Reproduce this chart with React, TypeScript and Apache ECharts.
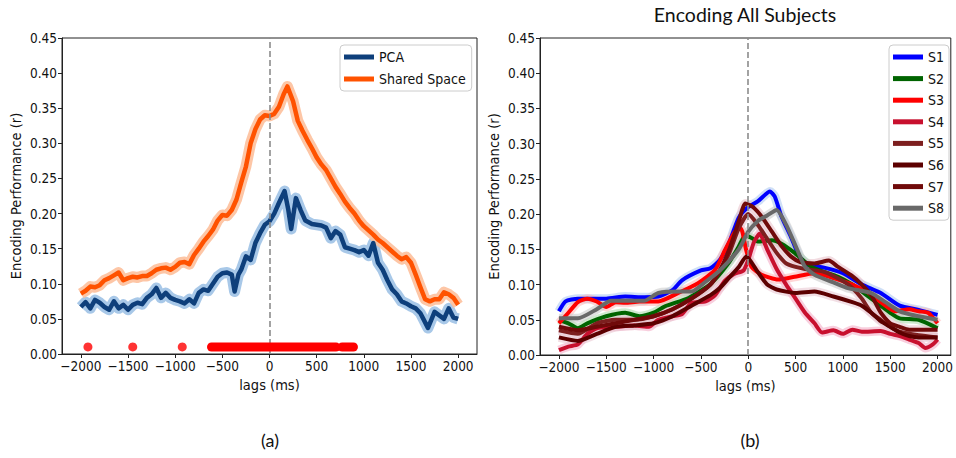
import React, { useEffect, useRef } from "react";
import * as echarts from "echarts";

type Pt = [number, number];

const xTicks = [-2000, -1500, -1000, -500, 0, 500, 1000, 1500, 2000];

const pcaSeries: Pt[] = [
  [-2000, 0.067], [-1950, 0.074], [-1900, 0.065], [-1850, 0.077], [-1800, 0.073], [-1750, 0.067],
  [-1700, 0.063], [-1650, 0.075], [-1600, 0.065], [-1550, 0.07], [-1500, 0.063], [-1450, 0.07],
  [-1400, 0.073], [-1350, 0.071], [-1300, 0.08], [-1250, 0.085], [-1200, 0.094], [-1150, 0.08],
  [-1100, 0.087], [-1050, 0.08], [-1000, 0.077], [-950, 0.075], [-900, 0.072], [-850, 0.078],
  [-800, 0.072], [-750, 0.087], [-700, 0.092], [-650, 0.09], [-600, 0.1], [-550, 0.11],
  [-500, 0.115], [-450, 0.116], [-400, 0.113], [-370, 0.089], [-330, 0.113], [-300, 0.12],
  [-250, 0.139], [-200, 0.134], [-150, 0.158], [-100, 0.172], [-50, 0.184], [0, 0.189],
  [50, 0.2], [100, 0.215], [160, 0.232], [200, 0.205], [230, 0.178], [280, 0.222],
  [330, 0.205], [380, 0.19], [450, 0.185], [500, 0.184], [550, 0.183], [600, 0.18],
  [650, 0.165], [700, 0.175], [750, 0.17], [800, 0.152], [850, 0.15], [900, 0.148],
  [950, 0.145], [1000, 0.148], [1050, 0.14], [1100, 0.158], [1150, 0.13], [1200, 0.12],
  [1250, 0.105], [1300, 0.092], [1350, 0.085], [1400, 0.075], [1450, 0.072], [1500, 0.068],
  [1550, 0.065], [1600, 0.058], [1650, 0.045], [1680, 0.037], [1750, 0.06], [1800, 0.055],
  [1850, 0.05], [1900, 0.065], [1950, 0.052], [2000, 0.05],
];

const sharedSeries: Pt[] = [
  [-2000, 0.086], [-1950, 0.09], [-1900, 0.096], [-1850, 0.095], [-1800, 0.098], [-1750, 0.105],
  [-1700, 0.108], [-1650, 0.112], [-1600, 0.116], [-1550, 0.105], [-1500, 0.108], [-1450, 0.11],
  [-1400, 0.109], [-1350, 0.111], [-1300, 0.111], [-1250, 0.115], [-1200, 0.12], [-1150, 0.122],
  [-1100, 0.123], [-1050, 0.12], [-1000, 0.124], [-950, 0.13], [-900, 0.131], [-850, 0.128],
  [-800, 0.141], [-750, 0.15], [-700, 0.16], [-650, 0.168], [-600, 0.177], [-550, 0.19],
  [-500, 0.198], [-450, 0.197], [-400, 0.205], [-350, 0.22], [-300, 0.244], [-250, 0.267],
  [-200, 0.3], [-150, 0.32], [-100, 0.334], [-50, 0.34], [0, 0.339], [50, 0.342],
  [100, 0.352], [150, 0.37], [190, 0.381], [250, 0.36], [300, 0.332], [350, 0.318],
  [400, 0.305], [450, 0.293], [500, 0.28], [550, 0.27], [600, 0.262], [650, 0.25],
  [700, 0.238], [750, 0.228], [800, 0.217], [850, 0.208], [900, 0.2], [950, 0.19],
  [1000, 0.182], [1050, 0.176], [1100, 0.17], [1150, 0.163], [1200, 0.158], [1250, 0.152],
  [1300, 0.146], [1350, 0.14], [1400, 0.135], [1450, 0.138], [1500, 0.13], [1550, 0.113],
  [1600, 0.095], [1650, 0.078], [1700, 0.075], [1750, 0.078], [1800, 0.078], [1850, 0.088],
  [1900, 0.085], [1950, 0.08], [2000, 0.07],
];

const sigLevel = 0.01;
const sigSingles = [-1925, -1450, -925];
const sigRanges: Pt[] = [[-615, 705], [770, 890]];

const s1: Pt[] = [
  [-2000, 0.062], [-1930, 0.076], [-1800, 0.08], [-1500, 0.08], [-1300, 0.083], [-1100, 0.082],
  [-950, 0.083], [-800, 0.092], [-700, 0.106], [-500, 0.12], [-400, 0.123], [-300, 0.135],
  [-200, 0.16], [-100, 0.195], [0, 0.21], [100, 0.218], [230, 0.232], [280, 0.225],
  [350, 0.197], [450, 0.168], [540, 0.14], [630, 0.128], [800, 0.124], [1000, 0.116],
  [1200, 0.1], [1400, 0.088], [1600, 0.07], [1800, 0.064], [2000, 0.057],
];
const s2: Pt[] = [
  [-2000, 0.05], [-1900, 0.045], [-1800, 0.038], [-1700, 0.045], [-1500, 0.055], [-1300, 0.06],
  [-1150, 0.055], [-1000, 0.06], [-880, 0.069], [-630, 0.081], [-390, 0.102], [-210, 0.13],
  [-100, 0.154], [-30, 0.17], [50, 0.165], [100, 0.161], [250, 0.163], [350, 0.158],
  [490, 0.145], [670, 0.125], [950, 0.111], [1100, 0.1], [1250, 0.085], [1400, 0.07],
  [1500, 0.06], [1600, 0.052], [1800, 0.05], [2000, 0.038],
];
const s3: Pt[] = [
  [-2000, 0.045], [-1900, 0.06], [-1800, 0.075], [-1700, 0.08], [-1600, 0.076], [-1500, 0.068],
  [-1400, 0.075], [-1300, 0.074], [-1150, 0.076], [-950, 0.076], [-740, 0.088], [-530, 0.102],
  [-350, 0.121], [-245, 0.149], [-140, 0.175], [-80, 0.18], [-20, 0.148], [35, 0.125],
  [140, 0.114], [315, 0.107], [490, 0.111], [700, 0.116], [950, 0.107], [1100, 0.1],
  [1250, 0.09], [1400, 0.075], [1550, 0.062], [1700, 0.065], [1800, 0.062], [1900, 0.06],
  [2000, 0.045],
];
const s4: Pt[] = [
  [-2000, 0.007], [-1900, 0.012], [-1800, 0.015], [-1700, 0.03], [-1600, 0.038], [-1400, 0.04],
  [-1200, 0.042], [-1050, 0.04], [-950, 0.05], [-800, 0.055], [-700, 0.058], [-600, 0.074],
  [-450, 0.076], [-350, 0.085], [-250, 0.105], [-150, 0.115], [-50, 0.12], [0, 0.135],
  [60, 0.16], [120, 0.172], [200, 0.15], [300, 0.122], [400, 0.1], [500, 0.08],
  [600, 0.06], [700, 0.045], [780, 0.032], [900, 0.035], [1000, 0.03], [1100, 0.036],
  [1200, 0.033], [1400, 0.034], [1500, 0.03], [1600, 0.027], [1700, 0.022], [1800, 0.017],
  [1870, 0.01], [1950, 0.015], [2000, 0.022],
];
const s5: Pt[] = [
  [-2000, 0.035], [-1800, 0.03], [-1600, 0.045], [-1400, 0.05], [-1200, 0.05], [-1000, 0.055],
  [-800, 0.065], [-600, 0.08], [-400, 0.1], [-300, 0.12], [-200, 0.145], [-100, 0.18],
  [0, 0.2], [100, 0.185], [200, 0.165], [300, 0.145], [400, 0.13], [500, 0.125],
  [600, 0.122], [800, 0.118], [1000, 0.105], [1100, 0.095], [1200, 0.08], [1300, 0.06],
  [1400, 0.05], [1500, 0.04], [1600, 0.033], [1800, 0.028], [2000, 0.025],
];
const s6: Pt[] = [
  [-2000, 0.025], [-1800, 0.02], [-1600, 0.03], [-1400, 0.04], [-1200, 0.042], [-1000, 0.045],
  [-800, 0.055], [-600, 0.07], [-400, 0.085], [-300, 0.095], [-200, 0.11], [-100, 0.125],
  [-20, 0.14], [100, 0.118], [200, 0.1], [300, 0.093], [500, 0.088], [700, 0.09],
  [900, 0.083], [1100, 0.075], [1200, 0.07], [1300, 0.06], [1400, 0.048], [1500, 0.04],
  [1600, 0.032], [1700, 0.027], [1800, 0.025], [2000, 0.025],
];
const s7: Pt[] = [
  [-2000, 0.04], [-1800, 0.035], [-1600, 0.04], [-1400, 0.045], [-1200, 0.05], [-1000, 0.055],
  [-800, 0.065], [-600, 0.08], [-400, 0.1], [-300, 0.12], [-200, 0.15], [-100, 0.19],
  [-30, 0.215], [50, 0.21], [150, 0.195], [250, 0.175], [350, 0.155], [450, 0.14],
  [550, 0.132], [700, 0.13], [850, 0.134], [950, 0.125], [1100, 0.112], [1200, 0.1],
  [1300, 0.085], [1400, 0.06], [1500, 0.045], [1600, 0.04], [1700, 0.036], [2000, 0.036],
];
const s8: Pt[] = [
  [-2000, 0.052], [-1800, 0.052], [-1600, 0.065], [-1450, 0.077], [-1300, 0.077], [-1100, 0.077],
  [-950, 0.088], [-700, 0.09], [-600, 0.09], [-450, 0.104], [-300, 0.12], [-100, 0.15],
  [0, 0.175], [100, 0.19], [200, 0.198], [300, 0.206], [400, 0.185], [500, 0.155],
  [600, 0.125], [700, 0.114], [900, 0.103], [1050, 0.095], [1300, 0.088], [1450, 0.075],
  [1600, 0.062], [1800, 0.055], [2000, 0.05],
];

const subjectNames = ["S1", "S2", "S3", "S4", "S5", "S6", "S7", "S8"];
const subjectData = [s1, s2, s3, s4, s5, s6, s7, s8];
const subjectColors = ["#0000ff", "#006400", "#ff0000", "#c8102e", "#7d1f1f", "#5c0000", "#700a0a", "#696969"];
const subjectBands = ["#a8c4f0", "#a8d8a8", "#ffb4b4", "#f2a8c2", "#e8c4d4", "#e8c4d0", "#e8c0c8", "#c8c8c8"];

const FONT = "'DejaVu Sans Condensed', 'DejaVu Sans', sans-serif";
const TITLE_FONT = "Lato, 'Open Sans', sans-serif";
const TXT = "#111";

const fmtX = (v: number) => (v < 0 ? "\u2212" + Math.abs(v) : String(v));

function xAxisFor(gridIndex: number, min: number, max: number) {
  return {
    gridIndex,
    type: "value",
    min,
    max,
    name: "lags (ms)",
    nameLocation: "middle",
    nameGap: 23,
    nameTextStyle: { fontSize: 14.5, color: TXT, fontFamily: FONT },
    axisLine: { show: true, onZero: false, lineStyle: { color: "#222", width: 1 } },
    axisTick: { show: true, customValues: xTicks, length: 4, lineStyle: { color: "#222" } },
    axisLabel: { customValues: xTicks, formatter: fmtX, color: TXT, fontSize: 13.5, fontFamily: FONT, margin: 5 },
    splitLine: { show: false },
  };
}

function yAxisFor(gridIndex: number) {
  return {
    gridIndex,
    type: "value",
    min: 0,
    max: 0.45,
    interval: 0.05,
    name: "Encoding Performance (r)",
    nameLocation: "middle",
    nameRotate: 90,
    nameGap: 39,
    nameTextStyle: { fontSize: 14.5, color: TXT, fontFamily: FONT },
    axisLine: { show: true, onZero: false, lineStyle: { color: "#222", width: 1 } },
    axisTick: { show: true, length: 4, lineStyle: { color: "#222" } },
    axisLabel: { formatter: (v: number) => v.toFixed(2), color: TXT, fontSize: 13.5, fontFamily: FONT, margin: 5 },
    splitLine: { show: false },
  };
}

const zeroMark = {
  silent: true,
  symbol: ["none", "none"],
  label: { show: false },
  lineStyle: { type: [6, 3], color: "#8c8c8c", width: 1.6 },
  data: [{ xAxis: 0 }],
};

export default function App() {
  const ref = useRef<HTMLDivElement>(null);
  useEffect(() => {
    if (!ref.current) return;
    const chart = echarts.init(ref.current, undefined, { renderer: "svg" });
    const series: any[] = [];

    series.push({
      name: "PCA band", type: "line", xAxisIndex: 0, yAxisIndex: 0, data: pcaSeries,
      showSymbol: false, silent: true, color: "#9fc2e6",
      lineStyle: { width: 11, color: "#9fc2e6", opacity: 0.9, join: "round" }, z: 2,
      markLine: zeroMark,
    });
    series.push({
      name: "Shared band", type: "line", xAxisIndex: 0, yAxisIndex: 0, data: sharedSeries,
      showSymbol: false, silent: true, color: "#fdc09c",
      lineStyle: { width: 11, color: "#fdc09c", opacity: 0.9, join: "round" }, z: 2,
    });
    series.push({
      name: "PCA", type: "line", xAxisIndex: 0, yAxisIndex: 0, data: pcaSeries,
      showSymbol: false, color: "#0e3f7b",
      lineStyle: { width: 4.5, color: "#0e3f7b", join: "round" }, z: 3,
    });
    series.push({
      name: "Shared Space", type: "line", xAxisIndex: 0, yAxisIndex: 0, data: sharedSeries,
      showSymbol: false, color: "#ff5200",
      lineStyle: { width: 4.5, color: "#ff5200", join: "round" }, z: 3,
    });
    series.push({
      name: "sig", type: "scatter", xAxisIndex: 0, yAxisIndex: 0,
      data: sigSingles.map((x) => [x, sigLevel]),
      symbol: "circle", symbolSize: 9, itemStyle: { color: "#ff0000" }, z: 5, silent: true,
    });
    sigRanges.forEach((r, i) => {
      series.push({
        name: "sigRange" + i, type: "line", xAxisIndex: 0, yAxisIndex: 0,
        data: [[r[0], sigLevel], [r[1], sigLevel]],
        showSymbol: false, silent: true, color: "#ff0000",
        lineStyle: { width: 9, color: "#ff0000", cap: "round" }, z: 5,
      });
    });

    subjectNames.forEach((n, i) => {
      series.push({
        name: n + " band", type: "line", xAxisIndex: 1, yAxisIndex: 1, data: subjectData[i],
        showSymbol: false, silent: true, smooth: 0.2, color: subjectBands[i],
        lineStyle: { width: 9, color: subjectBands[i], opacity: 0.55 }, z: 2,
        ...(i === 0 ? { markLine: zeroMark } : {}),
      });
    });
    subjectNames.forEach((n, i) => {
      series.push({
        name: n, type: "line", xAxisIndex: 1, yAxisIndex: 1, data: subjectData[i],
        showSymbol: false, smooth: 0.2, color: subjectColors[i],
        lineStyle: { width: 4, color: subjectColors[i], join: "round" }, z: 3 + i * 0.01,
      });
    });

    const legendCommon = {
      orient: "vertical",
      icon: "rect",
      itemWidth: 30,
      itemHeight: 5,
      backgroundColor: "#fff",
      borderColor: "#cccccc",
      borderWidth: 1,
      borderRadius: 4,
      selectedMode: false,
      textStyle: { fontSize: 14, color: TXT, fontFamily: FONT, lineHeight: 14 },
    };

    chart.setOption({
      animation: false,
      backgroundColor: "#ffffff",
      grid: [
        { left: 62, top: 38, width: 415, height: 316, show: true, borderColor: "#222", borderWidth: 1, backgroundColor: "transparent" },
        { left: 540, top: 38, width: 412, height: 317, show: true, borderColor: "#222", borderWidth: 1, backgroundColor: "transparent" },
      ],
      xAxis: [xAxisFor(0, -2200, 2200), xAxisFor(1, -2200, 2140)],
      yAxis: [yAxisFor(0), yAxisFor(1)],
      legend: [
        { ...legendCommon, left: 340, top: 45, data: ["PCA", "Shared Space"], itemGap: 8, padding: [5, 6, 5, 4] },
        { ...legendCommon, left: 889, top: 45, data: subjectNames, itemGap: 7.6, padding: [5, 5, 5, 4] },
      ],
      graphic: [
        { type: "text", x: 745, y: 14, style: { text: "Encoding All Subjects", font: `19.5px ${TITLE_FONT}`, fill: TXT, textAlign: "center", textVerticalAlign: "middle" } },
        { type: "text", x: 270, y: 440, style: { text: "(a)", font: `18px ${TITLE_FONT}`, fill: TXT, textAlign: "center", textVerticalAlign: "middle" } },
        { type: "text", x: 750, y: 440, style: { text: "(b)", font: `18px ${TITLE_FONT}`, fill: TXT, textAlign: "center", textVerticalAlign: "middle" } },
      ],
      series,
    });
    return () => chart.dispose();
  }, []);
  return (
    <div
      ref={ref}
      style={{ position: "fixed", left: 0, top: 0, width: 956, height: 458, background: "#fff" }}
    />
  );
}
